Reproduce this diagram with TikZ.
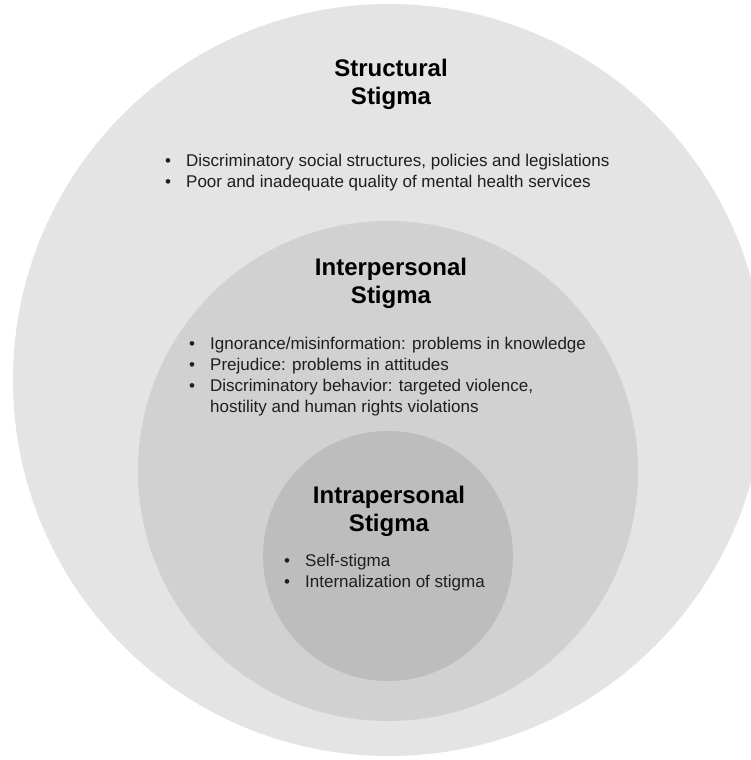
\documentclass[tikz,border=0pt]{standalone}
\usepackage{fontspec}
\setmainfont{Liberation Sans}
\usetikzlibrary{positioning}

\definecolor{outergray}{HTML}{E4E4E4}
\definecolor{middlegray}{HTML}{D1D1D1}
\definecolor{innergray}{HTML}{BDBDBD}
\definecolor{textgray}{HTML}{1E1E1E}

% one bullet line of a list
\newcommand{\stigmaitem}[1]{\makebox[21pt][l]{\textbullet}#1}

\begin{document}
\begin{tikzpicture}[x=1pt, y=-1pt,
	ring/.style={circle, inner sep=0pt, outer sep=0pt, draw=none},
	ringtitle/.style={font=\bfseries\fontsize{24}{28}\selectfont, align=center, inner sep=0pt, text=black},
	points/.style={font=\fontsize{17}{21}\selectfont, inner sep=0pt, anchor=base west, text=textgray}]
	
	\path[use as bounding box] (0,0) rectangle (751,760);
	\fill[white] (0,0) rectangle (751,760);
	\clip (0,0) rectangle (751,760);
	
	% the three rings
	\node[ring, fill=outergray, minimum size=752] (outer) at (389,380) {};
	\node[ring, fill=middlegray, minimum size=500] (middle) at (388,471) {};
	\node[ring, fill=innergray, minimum size=250] (inner) at (388,556) {};
	
	% structural
	\node[ringtitle] (structtitle) at (391,84) {Structural\\Stigma};
	\node[points] (structlist) at (165,166) {\begin{tabular}[t]{@{}l@{}}
		\stigmaitem{Discriminatory social structures, policies and legislations}\\
		\stigmaitem{Poor and inadequate quality of mental health services}
	\end{tabular}};
	
	% interpersonal
	\node[ringtitle] (intertitle) at (391,283) {Interpersonal\\Stigma};
	\node[points] (interlist) at (189,349) {\begin{tabular}[t]{@{}l@{}}
		\stigmaitem{Ignorance/misinformation: problems in knowledge}\\
		\stigmaitem{Prejudice: problems in attitudes}\\
		\stigmaitem{Discriminatory behavior: targeted violence,}\\
		\hspace*{21pt}hostility and human rights violations
	\end{tabular}};
	
	% intrapersonal
	\node[ringtitle] (intratitle) at (389,511) {Intrapersonal\\Stigma};
	\node[points] (intralist) at (284,566) {\begin{tabular}[t]{@{}l@{}}
		\stigmaitem{Self-stigma}\\
		\stigmaitem{Internalization of stigma}
	\end{tabular}};
\end{tikzpicture}
\end{document}
